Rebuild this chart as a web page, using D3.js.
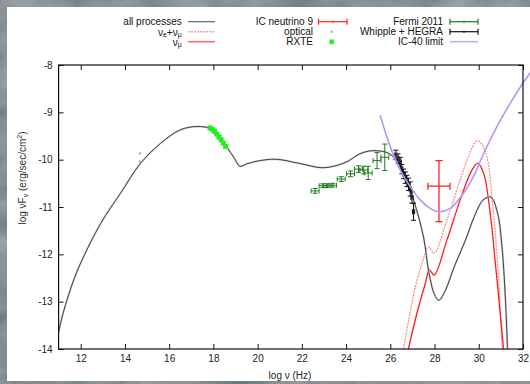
<!DOCTYPE html>
<html>
<head>
<meta charset="utf-8">
<script src="https://cdn.jsdelivr.net/npm/d3@7"></script>
<style>
  html, body { margin: 0; padding: 0; background: #3c464d; }
  svg { display: block; }
  text { font-family: "Liberation Sans", Arial, sans-serif; }
</style>
</head>
<body>
<svg id="chart" width="530" height="384"></svg>
<script>
// ---- data (log10 frequency in Hz, log10 nuFnu in erg/s/cm^2) ----
const allX = [11.0, 11.2, 11.8, 12.9, 13.8, 14.7, 15.6, 16.5, 17.25, 17.85, 18.2, 18.6, 18.95, 19.2, 19.5, 20.0, 20.8, 21.9, 22.9, 23.6, 24.1, 24.6, 25.0, 25.3, 25.85, 26.3, 26.7, 27.05, 27.5, 27.75, 28.0, 28.2, 28.5, 28.9, 29.4, 29.8, 30.2, 30.55, 30.85, 31.05, 31.2, 31.3];
const allY = [-13.65, -13.25, -12.4, -11.35, -10.71, -10.08, -9.66, -9.37, -9.30, -9.34, -9.48, -9.73, -9.97, -10.14, -10.09, -10.03, -9.99, -10.08, -10.17, -10.12, -10.03, -9.88, -9.82, -9.81, -9.85, -10.02, -10.4, -10.85, -11.63, -12.4, -12.85, -12.97, -12.75, -12.25, -11.7, -11.2, -10.85, -10.79, -11.13, -11.84, -12.9, -14.0];

const nuAllX = [26.6, 27.13, 27.5, 27.73, 27.98, 28.56, 29.31, 29.7, 29.92, 30.15, 30.37, 30.67, 30.9, 31.05];
const nuAllY = [-14.0, -12.69, -12.1, -11.84, -11.98, -11.28, -10.22, -9.75, -9.6, -9.68, -9.94, -11.14, -12.55, -14.0];

const nuMuX = [26.82, 27.2, 27.58, 27.77, 27.98, 28.56, 29.16, 29.69, 29.96, 30.22, 30.52, 30.75, 30.97, 31.12];
const nuMuY = [-14.0, -13.25, -12.62, -12.33, -12.44, -11.7, -10.85, -10.22, -10.08, -10.29, -11.14, -12.19, -13.25, -14.0];

const ic40X = [25.54, 26.0, 26.45, 26.9, 27.35, 27.8, 28.18, 28.71, 29.31, 29.76, 30.22, 30.82, 31.42, 32.0, 32.35];
const ic40Y = [-9.06, -9.73, -10.22, -10.57, -10.85, -11.03, -11.1, -11.03, -10.71, -10.36, -9.87, -9.3, -8.81, -8.38, -8.15];

const rxteX = [17.85, 17.95, 18.05, 18.15, 18.25, 18.35, 18.45, 18.55];
const rxteY = [-9.33, -9.36, -9.40, -9.46, -9.52, -9.58, -9.65, -9.72];

const opticalX = [14.68, 14.68];
const opticalY = [-9.87, -10.04];

const fermiX = [22.6, 22.95, 23.15, 23.4, 23.78, 24.2, 24.56, 24.8, 25.0, 25.4, 25.75];
const fermiY = [-10.66, -10.55, -10.55, -10.54, -10.41, -10.3, -10.2, -10.22, -10.28, -10.02, -9.95];
const fermiXerr = [0.18, 0.17, 0.17, 0.17, 0.18, 0.18, 0.18, 0.18, 0.18, 0.18, 0.18];
const fermiYerr = [0.05, 0.04, 0.04, 0.04, 0.05, 0.06, 0.07, 0.08, 0.14, 0.17, 0.28];

const whipX = [26.25, 26.35, 26.45, 26.52, 26.6, 26.68, 26.75, 26.82, 26.9, 26.98, 27.05];
const whipY = [-9.9, -9.98, -10.05, -10.2, -10.3, -10.38, -10.45, -10.52, -10.62, -10.8, -11.1];
const whipYerr = [0.1, 0.1, 0.1, 0.1, 0.1, 0.12, 0.12, 0.13, 0.15, 0.12, 0.18];
const whipXerr = [0.05, 0.05, 0.05, 0.05, 0.05, 0.05, 0.05, 0.05, 0.05, 0.05, 0.05];

// IceCube neutrino flux estimate (asymmetric vertical errors)
const icNuX = [28.2];
const icNuY = [-10.56];
const icNuXerr = [0.5];
const icNuYup = [0.54];
const icNuYdown = [0.75];

const xTicks = [12, 14, 16, 18, 20, 22, 24, 26, 28, 30, 32];
const yTicks = [-8, -9, -10, -11, -12, -13, -14];

// ---- layout ----
const svg = d3.select("#chart");
const W = 530, H = 384;
const x = d3.scaleLinear().domain([11, 32]).range([58.6, 523]);
const y = d3.scaleLinear().domain([-14, -8]).range([349, 65]);

// textured dark backdrop
const defs = svg.append("defs");
const tex = defs.append("filter").attr("id", "stone")
  .attr("filterUnits", "userSpaceOnUse")
  .attr("x", 0).attr("y", 0).attr("width", W).attr("height", H);
tex.append("feTurbulence").attr("type", "fractalNoise")
  .attr("baseFrequency", "0.018 0.03").attr("numOctaves", 4).attr("seed", 7).attr("result", "n");
tex.append("feColorMatrix").attr("in", "n").attr("type", "matrix")
  .attr("values", "0.35 0 0 0 0.06  0.35 0 0 0 0.10  0.35 0 0 0 0.125  0 0 0 0 1");
svg.append("rect").attr("width", W).attr("height", H).attr("filter", "url(#stone)");

// white page
svg.append("rect").attr("x", 7).attr("y", 7).attr("width", W - 7).attr("height", 374).attr("fill", "#ffffff");

defs.append("clipPath").attr("id", "plotclip").append("rect")
  .attr("x", x(11)).attr("y", y(-8)).attr("width", x(32) - x(11)).attr("height", y(-14) - y(-8));
// the IC-40 limit curve runs on past the right frame
defs.append("clipPath").attr("id", "limitclip").append("rect")
  .attr("x", x(11)).attr("y", 60).attr("width", W - x(11)).attr("height", y(-14) - 60);

const zip = (a, b) => a.map((v, i) => [v, b[i]]);
const line = d3.line().x(d => x(d[0])).y(d => y(d[1])).curve(d3.curveCatmullRom.alpha(0.5));

const plot = svg.append("g").attr("clip-path", "url(#plotclip)");

// model curves
plot.append("path").datum(zip(nuAllX, nuAllY)).attr("d", line)
  .attr("fill", "none").attr("stroke", "#ff8c8c").attr("stroke-width", 1.3).attr("stroke-dasharray", "2,1");
plot.append("path").datum(zip(nuMuX, nuMuY)).attr("d", line)
  .attr("fill", "none").attr("stroke", "#ff1a1a").attr("stroke-width", 1.3);
plot.append("path").datum(zip(allX, allY)).attr("d", line)
  .attr("fill", "none").attr("stroke", "#d0d0d0").attr("stroke-width", 2);
plot.append("path").datum(zip(allX, allY)).attr("d", line)
  .attr("fill", "none").attr("stroke", "#404040").attr("stroke-width", 1);
svg.append("path").attr("clip-path", "url(#limitclip)").datum(zip(ic40X, ic40Y)).attr("d", line)
  .attr("fill", "none").attr("stroke", "#b795f5").attr("stroke-width", 1.6);

// error-bar helper
function errorBars(g, xs, ys, xlo, xhi, ylo, yhi, color, cap) {
  const pts = xs.map((v, i) => ({ x: v, y: ys[i], xl: v - xlo[i], xh: v + xhi[i], yl: ys[i] - ylo[i], yh: ys[i] + yhi[i] }));
  const grp = g.append("g").attr("stroke", color).attr("stroke-width", 1).attr("fill", "none");
  pts.forEach(p => {
    grp.append("line").attr("x1", x(p.xl)).attr("x2", x(p.xh)).attr("y1", y(p.y)).attr("y2", y(p.y));
    grp.append("line").attr("x1", x(p.xl)).attr("x2", x(p.xl)).attr("y1", y(p.y) - cap).attr("y2", y(p.y) + cap);
    grp.append("line").attr("x1", x(p.xh)).attr("x2", x(p.xh)).attr("y1", y(p.y) - cap).attr("y2", y(p.y) + cap);
    grp.append("line").attr("x1", x(p.x)).attr("x2", x(p.x)).attr("y1", y(p.yl)).attr("y2", y(p.yh));
    grp.append("line").attr("x1", x(p.x) - cap).attr("x2", x(p.x) + cap).attr("y1", y(p.yl)).attr("y2", y(p.yl));
    grp.append("line").attr("x1", x(p.x) - cap).attr("x2", x(p.x) + cap).attr("y1", y(p.yh)).attr("y2", y(p.yh));
  });
  return grp;
}

errorBars(plot, fermiX, fermiY, fermiXerr, fermiXerr, fermiYerr, fermiYerr, "#1f7a1f", 2.5);
errorBars(plot, whipX, whipY, whipXerr, whipXerr, whipYerr, whipYerr, "#111111", 2.5);
errorBars(plot, icNuX, icNuY, icNuXerr, icNuXerr, icNuYdown, icNuYup, "#ff2020", 3.5).attr("stroke-width", 1.3);

// RXTE squares
plot.append("g").selectAll("rect").data(zip(rxteX, rxteY)).join("rect")
  .attr("x", d => x(d[0]) - 2.5).attr("y", d => y(d[1]) - 2.5)
  .attr("width", 5).attr("height", 5).attr("fill", "#22ee22");

// optical points
plot.append("g").selectAll("circle").data(zip(opticalX, opticalY)).join("circle")
  .attr("cx", d => x(d[0])).attr("cy", d => y(d[1])).attr("r", 1.3).attr("fill", "#b0b0b0");

// ---- axes ----
const axisColor = "#111";
function styleAxis(g) {
  g.select(".domain").remove();
  g.selectAll(".tick line").attr("stroke", axisColor);
  g.selectAll(".tick text").attr("fill", "#222").style("font-size", "10px")
    .style("font-family", "'Liberation Sans', Arial, sans-serif");
}
svg.append("g").attr("transform", `translate(0,${y(-14)})`)
  .call(d3.axisBottom(x).tickValues(xTicks).tickSizeInner(-5).tickSizeOuter(0).tickPadding(6))
  .call(styleAxis);
svg.append("g").attr("transform", `translate(0,${y(-8)})`)
  .call(d3.axisTop(x).tickValues(xTicks).tickSizeInner(-5).tickSizeOuter(0).tickFormat(""))
  .call(styleAxis);
svg.append("g").attr("transform", `translate(${x(11)},0)`)
  .call(d3.axisLeft(y).tickValues(yTicks).tickSizeInner(-5).tickSizeOuter(0).tickPadding(6).tickFormat(d3.format("d")))
  .call(styleAxis);
svg.append("g").attr("transform", `translate(${x(32)},0)`)
  .call(d3.axisRight(y).tickValues(yTicks).tickSizeInner(-5).tickSizeOuter(0).tickFormat(""))
  .call(styleAxis);

// plain hyphen for negative tick labels
svg.selectAll(".tick text").text(function () { return this.textContent.replace("\u2212", "-"); });

svg.append("rect").attr("x", x(11)).attr("y", y(-8)).attr("width", x(32) - x(11)).attr("height", y(-14) - y(-8))
  .attr("fill", "none").attr("stroke", axisColor).attr("stroke-width", 1.2);

// axis titles
svg.append("text").attr("x", 290).attr("y", 375).attr("text-anchor", "middle")
  .attr("dominant-baseline", "central").attr("fill", "#222").style("font-size", "10px").text("log ν (Hz)");

const yt = svg.append("text").attr("transform", "translate(22,178) rotate(-90)")
  .attr("text-anchor", "middle").attr("dominant-baseline", "central").attr("fill", "#333").style("font-size", "10px");
yt.append("tspan").text("log νF");
yt.append("tspan").attr("dy", 2.5).style("font-size", "7px").text("ν");
yt.append("tspan").attr("dy", -2.5).text(" (erg/sec/cm");
yt.append("tspan").attr("dy", -3.5).style("font-size", "7px").text("2");
yt.append("tspan").attr("dy", 3.5).text(")");

// ---- legend ----
const rows = [21.7, 31.7, 41.7];
const leg = svg.append("g").style("font-size", "10px").attr("fill", "#111");
function legText(xr, yr) {
  return leg.append("text").attr("x", xr).attr("y", yr).attr("text-anchor", "end").attr("dominant-baseline", "central");
}
function legErr(x1, x2, yr, color) {
  const g = leg.append("g").attr("stroke", color).attr("stroke-width", 1.2);
  g.append("line").attr("x1", x1).attr("x2", x2).attr("y1", yr).attr("y2", yr);
  g.append("line").attr("x1", x1).attr("x2", x1).attr("y1", yr - 3).attr("y2", yr + 3);
  g.append("line").attr("x1", x2).attr("x2", x2).attr("y1", yr - 3).attr("y2", yr + 3);
  g.append("line").attr("x1", (x1 + x2) / 2).attr("x2", (x1 + x2) / 2).attr("y1", yr - 1).attr("y2", yr + 1);
}

legText(181.7, rows[0]).text("all processes");
leg.append("line").attr("x1", 188).attr("x2", 215).attr("y1", rows[0]).attr("y2", rows[0]).attr("stroke", "#666").attr("stroke-width", 1.2);

const t2 = legText(181.7, rows[1]);
t2.append("tspan").text("ν");
t2.append("tspan").attr("dy", 2.5).style("font-size", "7px").text("e");
t2.append("tspan").attr("dy", -2.5).text("+ν");
t2.append("tspan").attr("dy", 2.5).style("font-size", "7px").text("μ");
leg.append("line").attr("x1", 188).attr("x2", 215).attr("y1", rows[1]).attr("y2", rows[1])
  .attr("stroke", "#ff9a9a").attr("stroke-width", 1.4).attr("stroke-dasharray", "2,1");

const t3 = legText(181.7, rows[2]);
t3.append("tspan").text("ν");
t3.append("tspan").attr("dy", 2.5).style("font-size", "7px").text("μ");
leg.append("line").attr("x1", 188).attr("x2", 215).attr("y1", rows[2]).attr("y2", rows[2])
  .attr("stroke", "#ff6a6a").attr("stroke-width", 1.6);

legText(313, rows[0]).text("IC neutrino 9");
legErr(318.5, 347, rows[0], "#ff2020");
legText(313, rows[1]).text("optical");
leg.append("circle").attr("cx", 331.7).attr("cy", rows[1]).attr("r", 1.3).attr("fill", "#b0b0b0");
legText(313, rows[2]).text("RXTE");
leg.append("rect").attr("x", 329.5).attr("y", rows[2] - 2.2).attr("width", 4.4).attr("height", 4.4).attr("fill", "#22ee22");

legText(443, rows[0]).text("Fermi 2011");
legErr(450, 478, rows[0], "#1f7a1f");
legText(443, rows[1]).text("Whipple + HEGRA");
legErr(450, 478, rows[1], "#111111");
legText(443, rows[2]).text("IC-40 limit");
leg.append("line").attr("x1", 450).attr("x2", 478).attr("y1", rows[2]).attr("y2", rows[2])
  .attr("stroke", "#c8aaf8").attr("stroke-width", 1.6);
</script>
</body>
</html>
